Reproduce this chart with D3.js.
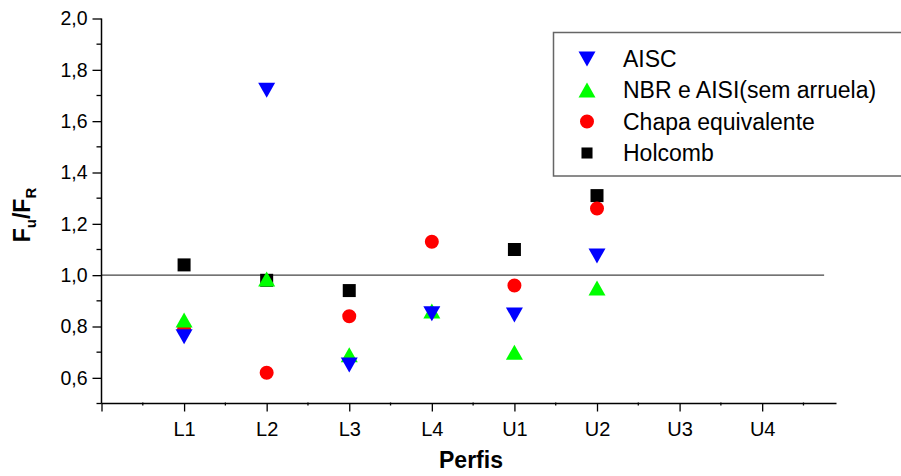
<!DOCTYPE html>
<html>
<head>
<meta charset="utf-8">
<script src="https://cdn.jsdelivr.net/npm/d3@7"></script>
<style>
  body { margin: 0; background: #fff; }
  text { font-family: Arial, "Liberation Sans", sans-serif; fill: #000; }
</style>
</head>
<body>
<div id="chartDiv"></div>
<script>

// profiles on the x axis
var categories = ["L1", "L2", "L3", "L4", "U1", "U2", "U3", "U4"];

// Fu/FR values per profile (null = no point)
var aisc    = [0.76, 1.72, 0.65, 0.85, 0.845, 1.075];
var nbr     = [0.825, 0.985, 0.69, 0.86, 0.70, 0.95];
var chapa   = [0.79, 0.62, 0.84, 1.13, 0.96, 1.26];
var holcomb = [1.04, 0.98, 0.94, null, 1.10, 1.31];

var seriesNames = ["AISC", "NBR e AISI(sem arruela)", "Chapa equivalente", "Holcomb"];

var yMajor = [0.6, 0.8, 1.0, 1.2, 1.4, 1.6, 1.8, 2.0];
var yMinor = [0.5, 0.7, 0.9, 1.1, 1.3, 1.5, 1.7, 1.9];

var svg = d3.select("#chartDiv").append("svg")
    .attr("width", 901)
    .attr("height", 476);

var x_scale = d3.scaleLinear().domain([0, 8.9]).range([101.5, 836.5]);
var y_scale = d3.scaleLinear().domain([0.5, 2.0]).range([403.5, 18.5]);

// custom triangles so the bbox is centred on the value
var triDown = {draw: function(ctx, size) {
  var w = 8.5, h = 7.5;
  ctx.moveTo(-w, -h); ctx.lineTo(w, -h); ctx.lineTo(0, h); ctx.closePath();
}};
var triUp = {draw: function(ctx, size) {
  var w = 8.5, h = 7.5;
  ctx.moveTo(0, -h); ctx.lineTo(w, h); ctx.lineTo(-w, h); ctx.closePath();
}};

var styles = [
  {data: aisc,    sym: d3.symbol().type(triDown)(),                    color: "#0000ff"},
  {data: nbr,     sym: d3.symbol().type(triUp)(),                      color: "#00ff00"},
  {data: chapa,   sym: d3.symbol().type(d3.symbolCircle).size(154)(),  color: "#ff0000"},
  {data: holcomb, sym: d3.symbol().type(d3.symbolSquare).size(169)(),  color: "#000000"}
];

// reference line at 1,0
svg.append("line")
    .attr("x1", x_scale(0)).attr("x2", x_scale(8.75))
    .attr("y1", y_scale(1.0)).attr("y2", y_scale(1.0))
    .attr("stroke", "#444").attr("stroke-width", 1.2);

// y axis
var yAxis = d3.axisLeft(y_scale)
    .tickValues(yMajor)
    .tickSize(9)
    .tickPadding(5)
    .tickFormat(function(d){ return d3.format(".1f")(d).replace(".", ","); });

var yGroup = svg.append("g")
    .attr("transform", "translate(" + x_scale(0) + ",0)")
    .call(yAxis);
yGroup.select(".domain").attr("stroke-width", 1.5).attr("d", "M0," + y_scale(0.5) + "V" + y_scale(2.0));
yGroup.selectAll("text").style("font-size", "19.5px").style("font-family", "Arial, 'Liberation Sans', sans-serif");
yGroup.selectAll(".tick line").attr("stroke-width", 1.3);

svg.append("g")
    .attr("transform", "translate(" + x_scale(0) + ",0)")
    .selectAll("line").data(yMinor).enter().append("line")
    .attr("x1", -5).attr("x2", 0)
    .attr("y1", function(d){ return y_scale(d); })
    .attr("y2", function(d){ return y_scale(d); })
    .attr("stroke", "#000").attr("stroke-width", 1.3);

// x axis
var xMajor = [0].concat(categories.map(function(c, i){ return i + 1; }));
var xMinor = xMajor.map(function(v){ return v + 0.5; });

var xAxis = d3.axisBottom(x_scale)
    .tickValues(xMajor)
    .tickSize(8)
    .tickPadding(10)
    .tickFormat(function(d){ return d === 0 ? "" : categories[d - 1]; });

var xGroup = svg.append("g")
    .attr("transform", "translate(0," + y_scale(0.5) + ")")
    .call(xAxis);
xGroup.select(".domain").attr("stroke-width", 1.5).attr("d", "M" + x_scale(0) + ",0H" + x_scale(8.9));
xGroup.selectAll("text").style("font-size", "20px").style("font-family", "Arial, 'Liberation Sans', sans-serif");
xGroup.selectAll(".tick line").attr("stroke-width", 1.3);

svg.append("g")
    .attr("transform", "translate(0," + y_scale(0.5) + ")")
    .selectAll("line").data(xMinor).enter().append("line")
    .attr("x1", function(d){ return x_scale(d); })
    .attr("x2", function(d){ return x_scale(d); })
    .attr("y1", -1).attr("y2", 2)
    .attr("stroke", "#000").attr("stroke-width", 1.3);

// points, drawn Holcomb first so the others sit on top
styles.slice().reverse().forEach(function(s) {
  svg.append("g").selectAll("path")
    .data(s.data.map(function(v, i){ return {i: i + 1, v: v}; }).filter(function(d){ return d.v !== null; }))
    .enter().append("path")
    .attr("d", s.sym)
    .attr("fill", s.color)
    .attr("transform", function(d){ return "translate(" + x_scale(d.i) + "," + y_scale(d.v) + ")"; });
});

// legend
var legend = svg.append("g");
legend.append("rect")
    .attr("x", 553.5).attr("y", 32.5)
    .attr("width", 360).attr("height", 143.5)
    .attr("fill", "#fff").attr("stroke", "#666").attr("stroke-width", 1.5);

var rowY = [59, 90, 121.5, 153];
styles.forEach(function(s, i) {
  legend.append("path")
    .attr("d", s.sym)
    .attr("fill", s.color)
    .attr("transform", "translate(587," + rowY[i] + ")" + (i === 3 ? " scale(0.85)" : ""));
  legend.append("text")
    .attr("x", 623).attr("y", rowY[i])
    .attr("dy", "0.36em")
    .style("font-size", "23px")
    .text(seriesNames[i]);
});

// axis titles
var yTitle = svg.append("text")
    .attr("transform", "translate(30,215) rotate(-90)")
    .attr("text-anchor", "middle")
    .style("font-size", "23px")
    .style("font-weight", "bold");
yTitle.append("tspan").text("F");
yTitle.append("tspan").attr("dy", 6).style("font-size", "15px").text("u");
yTitle.append("tspan").attr("dy", -6).text("/F");
yTitle.append("tspan").attr("dy", 6).style("font-size", "15px").text("R");

svg.append("text")
    .attr("x", 471).attr("y", 468)
    .attr("text-anchor", "middle")
    .style("font-size", "23px")
    .style("font-weight", "bold")
    .text("Perfis");

</script>
</body>
</html>
